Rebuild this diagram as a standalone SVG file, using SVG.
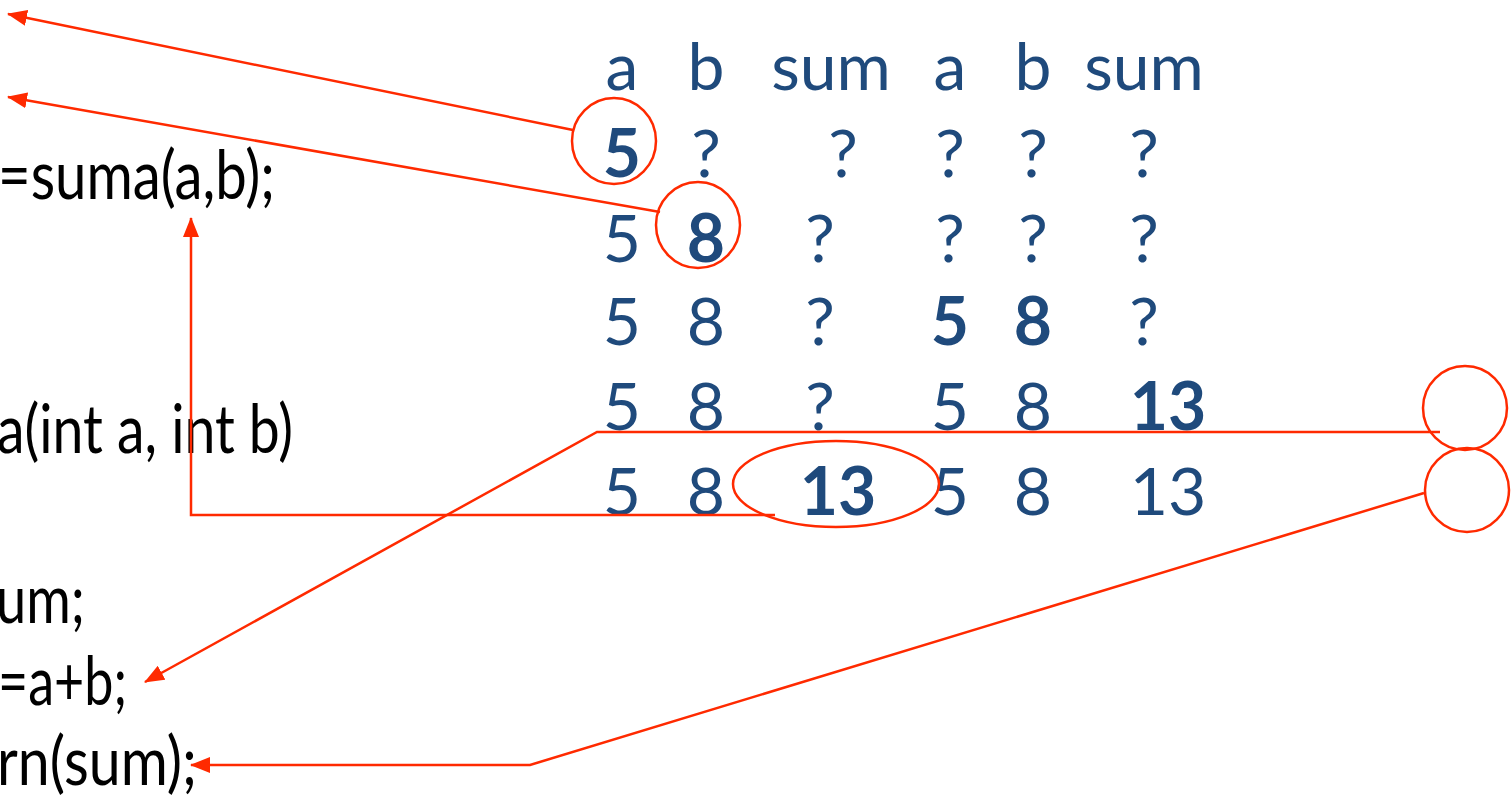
<svg xmlns="http://www.w3.org/2000/svg" width="1511" height="798" viewBox="0 0 1511 798">
<defs>
<style>
.code{font-family:Lato,"Noto Sans",sans-serif;font-size:68px;fill:#000}
.t{font-family:Lato,"Noto Sans",sans-serif;font-size:66px;fill:#1F4A7C;text-anchor:middle}
.b{font-weight:bold}
.r{fill:none;stroke:#FF2A00;stroke-width:2.5}
</style>
<marker id="ah" viewBox="0 0 20 16" refX="19" refY="8" markerWidth="20" markerHeight="16" markerUnits="userSpaceOnUse" orient="auto">
<path d="M0,0 L20,8 L0,16 z" fill="#FF2A00"/>
</marker>
</defs>
<rect width="1511" height="798" fill="#fff"/>
<g id="code">
<text class="code" x="-2" y="199" textLength="277" lengthAdjust="spacingAndGlyphs">=suma(a,b);</text>
<text class="code" x="-3" y="453" textLength="296" lengthAdjust="spacingAndGlyphs">a(int a, int b)</text>
<text class="code" x="-4" y="623" textLength="89" lengthAdjust="spacingAndGlyphs">um;</text>
<text class="code" x="-2" y="705" textLength="129" lengthAdjust="spacingAndGlyphs">=a+b;</text>
<text class="code" x="-3" y="785" textLength="200" lengthAdjust="spacingAndGlyphs">rn(sum);</text>
</g>
<g id="table">
<text class="t" x="622" y="90">a</text><text class="t" x="706" y="90">b</text><text class="t" x="831" y="90">sum</text><text class="t" x="950" y="90">a</text><text class="t" x="1033" y="90">b</text><text class="t" x="1144" y="90">sum</text>
<text class="t b" x="622" y="177">5</text><text class="t" x="706" y="177">?</text><text class="t" x="843" y="177">?</text><text class="t" x="950" y="177">?</text><text class="t" x="1033" y="177">?</text><text class="t" x="1144" y="177">?</text>
<text class="t" x="622" y="262">5</text><text class="t b" x="706" y="262">8</text><text class="t" x="820" y="262">?</text><text class="t" x="950" y="262">?</text><text class="t" x="1033" y="262">?</text><text class="t" x="1144" y="262">?</text>
<text class="t" x="622" y="345">5</text><text class="t" x="706" y="345">8</text><text class="t" x="820" y="345">?</text><text class="t b" x="950" y="345">5</text><text class="t b" x="1033" y="345">8</text><text class="t" x="1144" y="345">?</text>
<text class="t" x="622" y="430">5</text><text class="t" x="706" y="430">8</text><text class="t" x="820" y="430">?</text><text class="t" x="950" y="430">5</text><text class="t" x="1033" y="430">8</text><text class="t b" x="1168" y="430">13</text>
<text class="t" x="622" y="515">5</text><text class="t" x="706" y="515">8</text><text class="t b" x="838" y="515">13</text><text class="t" x="950" y="515">5</text><text class="t" x="1033" y="515">8</text><text class="t" x="1168" y="515">13</text>
</g>
<g id="highlights">
<ellipse class="r" cx="614" cy="141" rx="42" ry="43"/>
<ellipse class="r" cx="698" cy="225" rx="42" ry="43"/>
<ellipse class="r" cx="836" cy="484" rx="103" ry="43"/>
<circle class="r" cx="1465" cy="408" r="42"/>
<circle class="r" cx="1467" cy="490" r="42"/>
</g>
<g id="connectors">
<path class="r" d="M573,130 L8,14" marker-end="url(#ah)"/>
<path class="r" d="M660,212 L8,97" marker-end="url(#ah)"/>
<path class="r" d="M1440,432 L597,432 L145,682" marker-end="url(#ah)"/>
<path class="r" d="M775,515 L191,515 L191,218" marker-end="url(#ah)"/>
<path class="r" d="M1424,493 L530,765 L191,765" marker-end="url(#ah)"/>
</g>
</svg>
